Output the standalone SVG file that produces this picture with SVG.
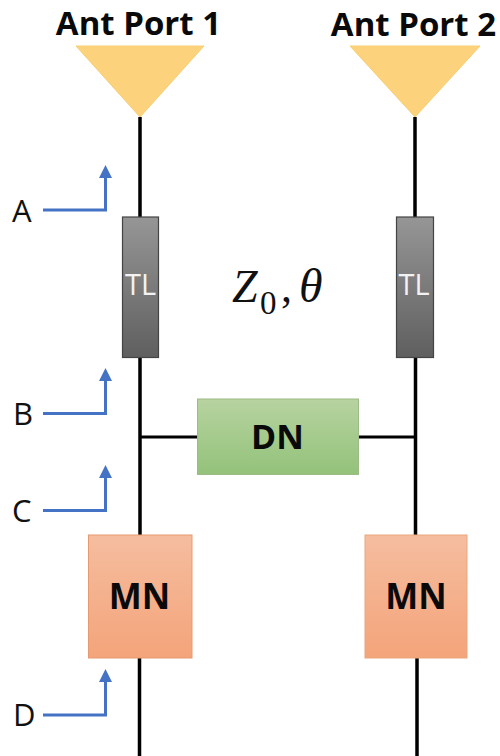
<svg xmlns="http://www.w3.org/2000/svg" width="500" height="756" viewBox="0 0 500 756">
<style>
.w{stroke:#000;stroke-width:3.5;fill:none}
.h{stroke:#000;stroke-width:3;fill:none}
.a{stroke:#4472c4;stroke-width:3;fill:none}
.ah{fill:#4472c4}
.lab{font-family:"Open Sans","Noto Sans",sans-serif;font-size:31px;fill:#111}
.b{font-family:"Open Sans","Noto Sans",sans-serif;font-weight:700;fill:#0a0a0a}
.tl{font-family:"Open Sans","Noto Sans",sans-serif;font-size:29px;fill:#f2f2f2;text-anchor:middle}
.math{font-family:"Liberation Serif",serif;fill:#111}
</style>
<defs>
<linearGradient id="gy" x1="0" y1="0" x2="0" y2="1"><stop offset="0" stop-color="#969696"/><stop offset="1" stop-color="#5f5f5f"/></linearGradient>
<linearGradient id="gg" x1="0" y1="0" x2="0" y2="1"><stop offset="0" stop-color="#b7d3a0"/><stop offset="1" stop-color="#93c27a"/></linearGradient>
<linearGradient id="go" x1="0" y1="0" x2="0" y2="1"><stop offset="0" stop-color="#f5bd9f"/><stop offset="1" stop-color="#f4a47a"/></linearGradient>
</defs>
<g id="connectors">
<path class="w" d="M140 117V217M140 357V535M139.500 658V756M415 117V217M415.500 357V535M417 658V756"/>
<path class="h" d="M140 437H198M358 437H415"/>
<path class="a" d="M43 210H105.500V178M43 413.500H105.500V381M43 510.500H105.500V478M43 715H105.500V682"/>
<path class="ah" d="M105.500 165L112 178H99ZM105.500 368L112 381H99ZM105.500 465L112 478H99ZM105.500 669L112 682H99Z"/>
</g>
<g id="port1"><path d="M76 46H204L140 117Z" fill="#fdd27c" stroke="#f7cf70"/><text class="b" x="138.500" y="35" font-size="33" text-anchor="middle">Ant Port 1</text></g>
<g id="port2"><path d="M350 46H480L415 117Z" fill="#fdd27c" stroke="#f7cf70"/><text class="b" x="413.500" y="36" font-size="33" text-anchor="middle">Ant Port 2</text></g>
<g id="tl1"><rect x="122.500" y="217" width="36" height="140.500" fill="url(#gy)" stroke="#444" stroke-width="1.200"/><text class="tl" x="140.500" y="295">TL</text></g>
<g id="tl2"><rect x="396.500" y="217" width="37" height="140.500" fill="url(#gy)" stroke="#444" stroke-width="1.200"/><text class="tl" x="414" y="295">TL</text></g>
<g id="dn"><rect x="197.500" y="399" width="161" height="75.500" fill="url(#gg)" stroke="#9dbb85"/><text class="b" x="277.500" y="449" font-size="34" text-anchor="middle">DN</text></g>
<g id="mn1"><rect x="88.500" y="535" width="103.500" height="123" fill="url(#go)" stroke="#e59a6f"/><text class="b" x="139.500" y="609" font-size="35" text-anchor="middle">MN</text></g>
<g id="mn2"><rect x="365" y="535" width="102" height="123" fill="url(#go)" stroke="#eba67c"/><text class="b" x="416" y="609" font-size="35" text-anchor="middle">MN</text></g>
<g id="labels">
<text class="lab" x="12" y="222">A</text>
<text class="lab" x="13" y="425">B</text>
<text class="lab" x="12" y="522">C</text>
<text class="lab" x="13" y="726">D</text>
<text class="math" x="232" y="302" font-size="46" font-style="italic">Z</text>
<text class="math" x="260" y="314" font-size="33">0</text>
<text class="math" x="281" y="302" font-size="44">,</text>
<text class="math" x="299" y="302" font-size="48" font-style="italic">θ</text>
</g>
</svg>
